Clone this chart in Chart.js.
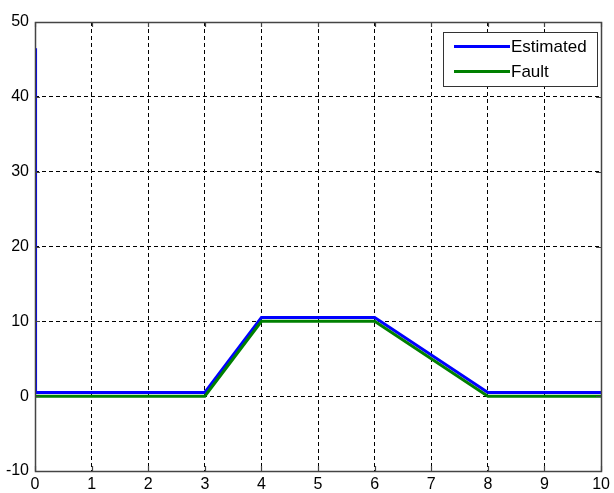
<!DOCTYPE html>
<html>
<head>
<meta charset="utf-8">
<script src="https://cdn.jsdelivr.net/npm/chart.js@4/dist/chart.umd.min.js"></script>
<style>
  html, body { margin: 0; padding: 0; background: #fff; }
  #wrap { width: 614px; height: 493px; }
</style>
</head>
<body>
<div id="wrap"><canvas id="c" width="614" height="493"></canvas></div>
<script>
// Time samples (s) and signal levels for the estimated and actual fault
const estTime  = [0, 0.01, 3, 4, 6, 8, 10];
const estValue = [46.5, 0.5, 0.5, 10.5, 10.5, 0.5, 0.5];
const faultTime  = [0, 3, 4, 6, 8, 10];
const faultValue = [0, 0, 10, 10, 0, 0];
const xTicks = [0, 1, 2, 3, 4, 5, 6, 7, 8, 9, 10];
const yTicks = [-10, 0, 10, 20, 30, 40, 50];
const seriesNames = ['Estimated', 'Fault'];
const seriesColors = ['#0000ff', '#008000'];

const toPoints = (xs, ys) => xs.map((x, i) => ({ x: x, y: ys[i] }));

const FONT = 'Liberation Sans, Arial, sans-serif';

// Frame, inward ticks and boxed legend in the upper right
const framePlugin = {
  id: 'frame',
  afterDraw(chart) {
    const { ctx, chartArea: a, scales } = chart;
    ctx.save();
    ctx.strokeStyle = '#444';
    ctx.lineWidth = 1.2;
    ctx.beginPath();
    const tl = 5;
    xTicks.forEach(v => {
      const px = Math.round(scales.x.getPixelForValue(v)) + 0.5;
      ctx.moveTo(px, a.bottom); ctx.lineTo(px, a.bottom - tl);
      ctx.moveTo(px, a.top); ctx.lineTo(px, a.top + tl);
    });
    yTicks.forEach(v => {
      const py = Math.round(scales.y.getPixelForValue(v)) + 0.5;
      ctx.moveTo(a.left, py); ctx.lineTo(a.left + tl, py);
      ctx.moveTo(a.right, py); ctx.lineTo(a.right - tl, py);
    });
    ctx.stroke();
    ctx.lineWidth = 1.5;
    ctx.strokeRect(Math.round(a.left) + 0.5, Math.round(a.top) + 0.5,
                   Math.round(a.right - a.left), Math.round(a.bottom - a.top));

    // legend box
    const bx = 443.5, by = 32.5, bw = 154, bh = 54;
    ctx.fillStyle = '#fff';
    ctx.fillRect(bx, by, bw, bh);
    ctx.strokeStyle = '#333';
    ctx.lineWidth = 1;
    ctx.strokeRect(bx, by, bw, bh);
    ctx.font = '17px ' + FONT;
    ctx.textBaseline = 'middle';
    ctx.textAlign = 'left';
    seriesNames.forEach((name, i) => {
      const y = by + 14 + i * 25;
      ctx.strokeStyle = seriesColors[i];
      ctx.lineWidth = 3;
      ctx.beginPath();
      ctx.moveTo(454, y); ctx.lineTo(510, y);
      ctx.stroke();
      ctx.fillStyle = '#000';
      ctx.fillText(name, 511, y + 1);
    });
    ctx.restore();
  }
};

new Chart(document.getElementById('c'), {
  type: 'line',
  data: {
    datasets: [
      {
        label: seriesNames[1],
        data: toPoints(faultTime, faultValue),
        borderColor: seriesColors[1],
        borderWidth: 3,
        pointRadius: 0,
        tension: 0,
        fill: false
      },
      {
        label: seriesNames[0],
        data: toPoints(estTime, estValue),
        borderColor: seriesColors[0],
        borderWidth: 3,
        pointRadius: 0,
        tension: 0,
        fill: false
      }
    ]
  },
  options: {
    responsive: false,
    animation: false,
    devicePixelRatio: 1,
    layout: { padding: { left: 0, right: 11, top: 22, bottom: 0 } },
    plugins: { legend: { display: false }, tooltip: { enabled: false } },
    scales: {
      x: {
        type: 'linear',
        min: 0, max: 10,
        afterBuildTicks: s => { s.ticks = xTicks.map(v => ({ value: v })); },
        afterFit: s => { s.height = 22; },
        grid: { color: '#000', lineWidth: 1, drawTicks: false },
        border: { display: false, dash: [4, 3] },
        ticks: {
          color: '#000', padding: 4,
          font: { family: FONT, size: 16 },
          maxRotation: 0
        }
      },
      y: {
        type: 'linear',
        min: -10, max: 50,
        afterBuildTicks: s => { s.ticks = yTicks.map(v => ({ value: v })); },
        afterFit: s => { s.width = 35; },
        grid: { color: '#000', lineWidth: 1, drawTicks: false },
        border: { display: false, dash: [4, 3] },
        ticks: {
          color: '#000', padding: 6,
          font: { family: FONT, size: 16 }
        }
      }
    }
  },
  plugins: [framePlugin]
});
</script>
</body>
</html>
